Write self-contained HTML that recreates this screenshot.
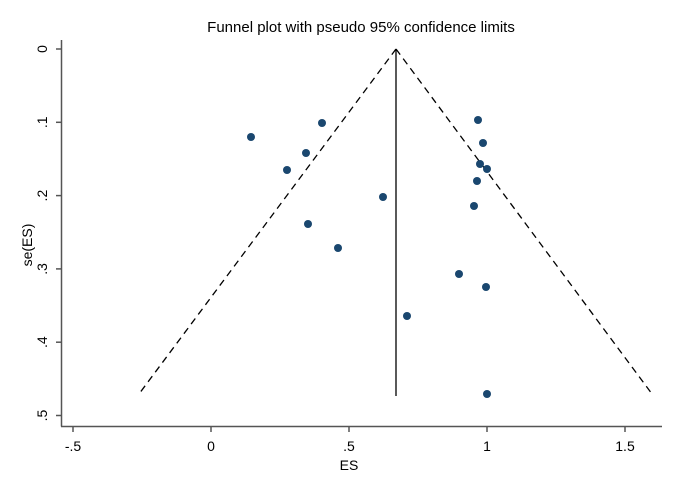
<!DOCTYPE html>
<html><head><style>body{margin:0;background:#fff}svg{display:block}</style></head><body>
<svg width="674" height="482" xmlns="http://www.w3.org/2000/svg" font-family="Liberation Sans, Arial, sans-serif">
<rect width="674" height="482" fill="#fff"/>
<text x="361" y="32" font-size="15" text-anchor="middle">Funnel plot with pseudo 95% confidence limits</text>
<g stroke="#555" stroke-width="1.5" fill="none">
<line x1="61.5" y1="40" x2="61.5" y2="426.5"/>
<line x1="61" y1="426.5" x2="662" y2="426.5"/>
<line x1="56" y1="49" x2="61" y2="49"/><line x1="56" y1="122.3" x2="61" y2="122.3"/><line x1="56" y1="195.6" x2="61" y2="195.6"/><line x1="56" y1="268.9" x2="61" y2="268.9"/><line x1="56" y1="342.2" x2="61" y2="342.2"/><line x1="56" y1="415.5" x2="61" y2="415.5"/>
<line x1="73" y1="427" x2="73" y2="432"/><line x1="211" y1="427" x2="211" y2="432"/><line x1="349" y1="427" x2="349" y2="432"/><line x1="487" y1="427" x2="487" y2="432"/><line x1="625" y1="427" x2="625" y2="432"/>
</g>
<g font-size="14" text-anchor="middle">
<text x="73" y="451">-.5</text><text x="211" y="451">0</text><text x="349" y="451">.5</text><text x="487" y="451">1</text><text x="625" y="451">1.5</text>
<text x="349" y="470">ES</text>
</g>
<g font-size="14" text-anchor="middle">
<text x="47" y="49" transform="rotate(-90 47 49)">0</text>
<text x="47" y="122.3" transform="rotate(-90 47 122.3)">.1</text>
<text x="47" y="195.6" transform="rotate(-90 47 195.6)">.2</text>
<text x="47" y="268.9" transform="rotate(-90 47 268.9)">.3</text>
<text x="47" y="342.2" transform="rotate(-90 47 342.2)">.4</text>
<text x="47" y="415.5" transform="rotate(-90 47 415.5)">.5</text>
<text x="32" y="245" transform="rotate(-90 32 245)">se(ES)</text>
</g>
<g stroke="#000" stroke-width="1.3" fill="none">
<line x1="396" y1="49" x2="139" y2="394" stroke-dasharray="7,5"/>
<line x1="396" y1="49" x2="652" y2="394" stroke-dasharray="7,5"/>
<line x1="396" y1="49" x2="396" y2="396"/>
</g>
<g fill="#1a476f">
<circle cx="251" cy="137" r="4"/><circle cx="322" cy="123" r="4"/><circle cx="306" cy="153" r="4"/><circle cx="287" cy="170" r="4"/><circle cx="383" cy="197" r="4"/><circle cx="308" cy="224" r="4"/><circle cx="338" cy="248" r="4"/><circle cx="478" cy="120" r="4"/><circle cx="483" cy="143" r="4"/><circle cx="480" cy="164" r="4"/><circle cx="487" cy="169" r="4"/><circle cx="477" cy="181" r="4"/><circle cx="474" cy="206" r="4"/><circle cx="459" cy="274" r="4"/><circle cx="486" cy="287" r="4"/><circle cx="407" cy="316" r="4"/><circle cx="487" cy="394" r="4"/>
</g>
</svg>
</body></html>
